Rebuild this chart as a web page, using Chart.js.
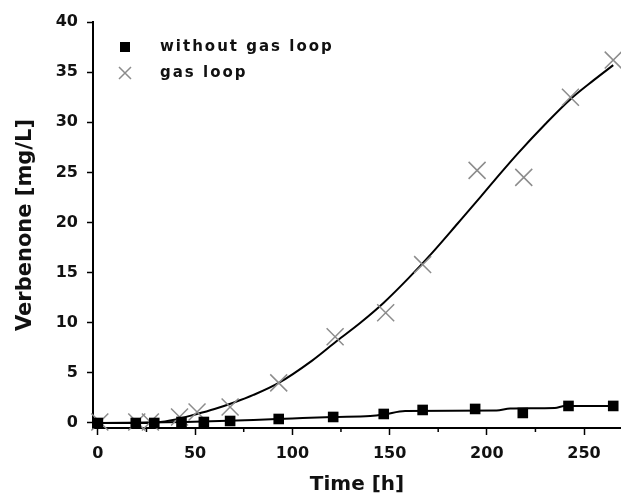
<!DOCTYPE html>
<html>
<head>
<meta charset="utf-8">
<script src="https://cdn.jsdelivr.net/npm/chart.js@4.4.1/dist/chart.umd.min.js"></script>
<style>
  html, body { margin: 0; padding: 0; background: #fff; }
  #wrap { width: 621px; height: 497px; }
</style>
</head>
<body>
<div id="wrap"><canvas id="grafico"></canvas></div>
<script>
const timeNoLoop = [0, 19.5, 29, 43, 54.5, 68, 93, 121, 147, 167, 194, 218.5, 242, 265];
const valNoLoop  = [0, 0, 0, 0.1, 0.1, 0.2, 0.4, 0.6, 0.9, 1.3, 1.4, 1.0, 1.7, 1.7];

const timeLoop = [1, 20, 27, 42, 51, 68, 93, 122, 148, 167, 195, 219, 243, 265];
const valLoop  = [0.1, 0.1, 0.1, 0.6, 1.1, 1.6, 4.0, 8.6, 11.0, 15.8, 25.2, 24.5, 32.5, 36.2];

// fitted curves as drawn in the figure
const fitLoopT = [0, 20, 30, 40, 50, 60, 70, 80, 93, 110, 123, 135, 147, 160, 172, 185, 197, 207, 216, 230, 243, 255, 265];
const fitLoopV = [0, 0, 0.05, 0.35, 0.85, 1.4, 2.05, 2.8, 4.0, 6.2, 8.2, 10.0, 12.0, 14.5, 17.0, 19.9, 22.6, 24.9, 26.9, 29.8, 32.3, 34.2, 35.7];

const fitNoT = [0, 45, 80, 100, 121, 140, 147, 158, 205, 212, 235, 240, 265];
const fitNoV = [0, 0.1, 0.3, 0.45, 0.6, 0.7, 0.85, 1.2, 1.25, 1.45, 1.5, 1.7, 1.7];

const xTicks = [0, 50, 100, 150, 200, 250];
const yTicks = [0, 5, 10, 15, 20, 25, 30, 35, 40];

function pares(xs, ys) {
  return xs.map((x, i) => ({ x: x, y: ys[i] }));
}

const FONTE = 'DejaVu Sans';

// minor ticks on the x axis, and the legend inside the plot
const extras = {
  id: 'extras',
  afterDraw(chart) {
    const ctx = chart.ctx;
    const xs = chart.scales.x;
    const area = chart.chartArea;
    ctx.save();
    ctx.strokeStyle = '#000';
    ctx.lineWidth = 1.5;
    for (let v = 25; v < xs.max; v += 50) {
      const px = xs.getPixelForValue(v);
      ctx.beginPath();
      ctx.moveTo(px, area.bottom);
      ctx.lineTo(px, area.bottom + 4);
      ctx.stroke();
    }

    // legenda
    const lx = area.left + 32;
    const ly = area.top + 25;
    ctx.fillStyle = '#000';
    ctx.fillRect(lx - 5, ly - 5, 10, 10);
    ctx.strokeStyle = '#8c8c8c';
    ctx.lineWidth = 1.5;
    ctx.beginPath();
    ctx.moveTo(lx - 6, ly + 26 - 6); ctx.lineTo(lx + 6, ly + 26 + 6);
    ctx.moveTo(lx + 6, ly + 26 - 6); ctx.lineTo(lx - 6, ly + 26 + 6);
    ctx.stroke();
    ctx.font = 'bold 15px "' + FONTE + '"';
    ctx.letterSpacing = '2px';
    ctx.textBaseline = 'middle';
    ctx.fillStyle = '#111';
    ctx.fillText(chart.data.datasets[0].label, lx + 35, ly);
    ctx.fillText(chart.data.datasets[1].label, lx + 35, ly + 26);
    ctx.restore();
  }
};

new Chart(document.getElementById('grafico'), {
  type: 'scatter',
  data: {
    datasets: [
      {
        label: 'without gas loop',
        data: pares(timeNoLoop, valNoLoop),
        pointStyle: 'rect',
        pointRadius: 7.5,
        backgroundColor: '#000',
        borderColor: '#000',
        borderWidth: 0,
        clip: false
      },
      {
        label: 'gas loop',
        data: pares(timeLoop, valLoop),
        pointStyle: 'crossRot',
        pointRadius: 12,
        borderColor: '#8c8c8c',
        borderWidth: 1.5,
        clip: false
      },
      {
        label: 'fit gas loop',
        data: pares(fitLoopT, fitLoopV),
        showLine: true,
        pointRadius: 0,
        borderColor: '#000',
        borderWidth: 2,
        cubicInterpolationMode: 'monotone',
        clip: false
      },
      {
        label: 'fit without gas loop',
        data: pares(fitNoT, fitNoV),
        showLine: true,
        pointRadius: 0,
        borderColor: '#000',
        borderWidth: 2,
        cubicInterpolationMode: 'monotone',
        clip: false
      }
    ]
  },
  options: {
    responsive: true,
    maintainAspectRatio: false,
    animation: false,
    layout: { autoPadding: false, padding: { left: 13, top: 22, right: 0, bottom: 0 } },
    plugins: {
      legend: { display: false },
      tooltip: { enabled: false }
    },
    scales: {
      x: {
        type: 'linear',
        min: -2.5,
        max: 269,
        afterBuildTicks: (s) => { s.ticks = xTicks.map(v => ({ value: v })); },
        afterFit: (s) => { s.height = 69; s.paddingLeft = 0; s.paddingRight = 0; },
        grid: { drawOnChartArea: false, tickLength: 7, tickColor: '#000', tickWidth: 1.5 },
        border: { color: '#000', width: 2 },
        ticks: { color: '#111', padding: 9, font: { family: FONTE, size: 16, weight: 'bold' } },
        title: {
          display: true,
          text: 'Time [h]',
          color: '#111',
          font: { family: FONTE, size: 20, weight: 'bold' },
          padding: { top: 6, bottom: 0 }
        }
      },
      y: {
        type: 'linear',
        min: -0.5,
        max: 40,
        afterBuildTicks: (s) => { s.ticks = yTicks.map(v => ({ value: v })); },
        afterFit: (s) => { s.width = 80; s.paddingTop = 0; s.paddingBottom = 0; },
        grid: { drawOnChartArea: false, tickLength: 6, tickColor: '#000', tickWidth: 1.5 },
        border: { color: '#000', width: 2 },
        ticks: { color: '#111', padding: 9, font: { family: FONTE, size: 16, weight: 'bold' } },
        title: {
          display: true,
          text: 'Verbenone [mg/L]',
          color: '#111',
          font: { family: FONTE, size: 21, weight: 'bold' },
          padding: { top: 0, bottom: 10 }
        }
      }
    }
  },
  plugins: [extras]
});
</script>
</body>
</html>
